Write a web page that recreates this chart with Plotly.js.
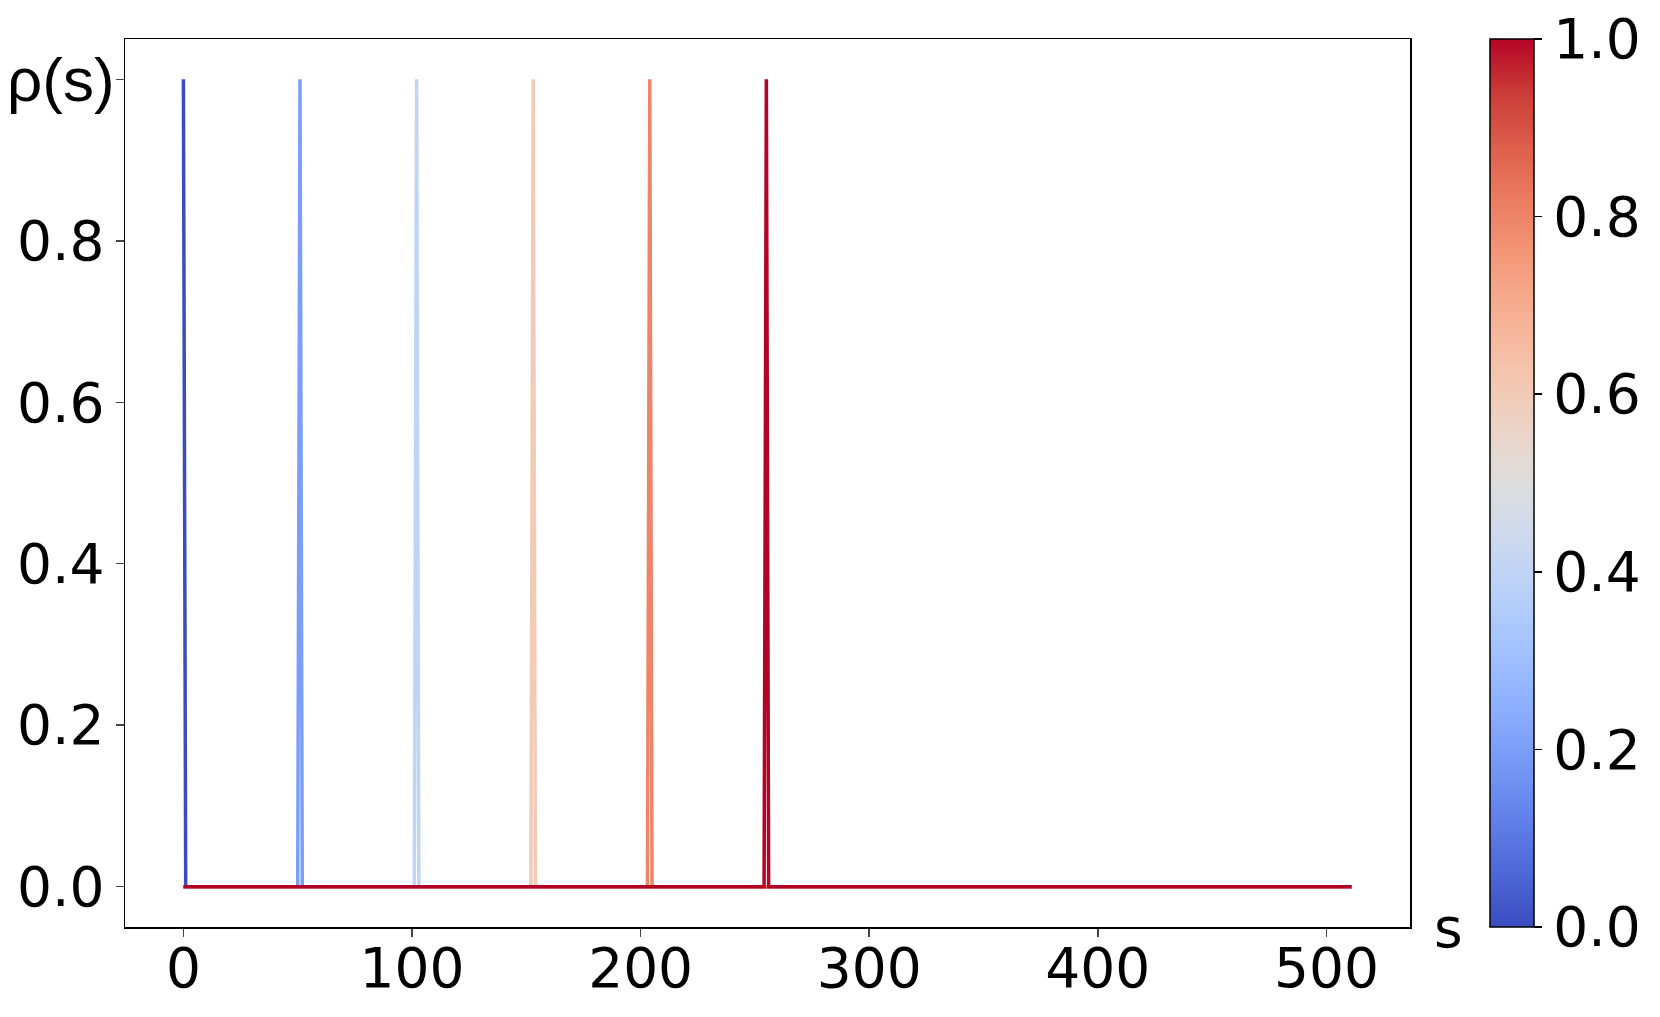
<!DOCTYPE html>
<html>
<head>
<meta charset="utf-8">
<script src="https://cdn.plot.ly/plotly-3.0.1.min.js"></script>
<style>
  html, body { margin: 0; padding: 0; background: #fff; }
  #chart { width: 1660px; height: 1017px; }
</style>
</head>
<body>
<div id="chart"></div>
<script>
// s runs over 0..511, each curve is a single spike of height 1
const sStart = 0;
const sEnd = 511;
const peakPositions = [0, 51, 102, 153, 204, 255];
const peakHeight = 1;
const colorValues = [0, 0.2, 0.4, 0.6, 0.8, 1.0];
const lineColors = ["#3b4cc0", "#7b9ff9", "#c0d4f5", "#f2cbb7", "#ee8468", "#b40426"];

const xTicks = [0, 100, 200, 300, 400, 500];
const yTicks = [0, 0.2, 0.4, 0.6, 0.8, 1.0];
const yTickText = ["0.0", "0.2", "0.4", "0.6", "0.8", ""];
const yLabel = "ρ(s)";
const xLabel = "s";

// matplotlib coolwarm
const coolwarm = [
  [0.0, "rgb(59,76,192)"], [0.0625, "rgb(77,104,215)"], [0.125, "rgb(98,130,234)"],
  [0.1875, "rgb(119,154,247)"], [0.25, "rgb(141,176,254)"], [0.3125, "rgb(163,194,255)"],
  [0.375, "rgb(184,208,249)"], [0.4375, "rgb(204,217,238)"], [0.5, "rgb(221,221,221)"],
  [0.5625, "rgb(236,211,197)"], [0.625, "rgb(245,196,173)"], [0.6875, "rgb(247,177,148)"],
  [0.75, "rgb(244,154,123)"], [0.8125, "rgb(236,127,99)"], [0.875, "rgb(222,96,77)"],
  [0.9375, "rgb(203,62,56)"], [1.0, "rgb(180,4,38)"]
];

const font = "DejaVu Sans";

const traces = peakPositions.map((p, i) => {
  const xs = [], ys = [];
  if (p > sStart) { xs.push(sStart, p - 1); ys.push(0, 0); }
  xs.push(p); ys.push(peakHeight);
  xs.push(p + 1, sEnd); ys.push(0, 0);
  return {
    x: xs,
    y: ys,
    mode: "lines",
    line: { color: lineColors[i], width: 3.5 },
    showlegend: false,
    hoverinfo: "skip"
  };
});

// dummy trace just to carry the colorbar
traces.push({
  x: [null],
  y: [null],
  mode: "markers",
  showlegend: false,
  hoverinfo: "skip",
  marker: {
    color: colorValues,
    colorscale: coolwarm,
    cmin: 0,
    cmax: 1,
    showscale: true,
    colorbar: {
      x: 1.0623,
      xanchor: "left",
      xpad: 0,
      ypad: 0,
      y: 0.5,
      len: 1,
      thickness: 44,
      outlinewidth: 1.5,
      outlinecolor: "#000",
      borderwidth: 0,
      ticks: "outside",
      ticklen: 8,
      tickwidth: 1.5,
      tickcolor: "#000",
      tickvals: colorValues,
      ticktext: colorValues.map(v => v.toFixed(1)),
      tickfont: { family: font, size: 55, color: "#000" }
    }
  }
});

const layout = {
  width: 1660,
  height: 1017,
  margin: { l: 125, r: 250, t: 39, b: 90 },
  paper_bgcolor: "#fff",
  plot_bgcolor: "#fff",
  font: { family: font, size: 55, color: "#000" },
  xaxis: {
    range: [-25.55, 536.55],
    tickvals: xTicks,
    ticks: "outside",
    ticklen: 8,
    tickwidth: 1.5,
    ticklabelstandoff: -16,
    showgrid: false,
    zeroline: false,
    showline: true,
    mirror: true,
    linecolor: "#000",
    linewidth: 1.5,
    tickfont: { family: font, size: 55 }
  },
  yaxis: {
    range: [-0.05, 1.05],
    tickvals: yTicks,
    ticktext: yTickText,
    ticks: "outside",
    ticklen: 8,
    tickwidth: 1.5,
    showgrid: false,
    zeroline: false,
    showline: true,
    mirror: true,
    linecolor: "#000",
    linewidth: 1.5,
    tickfont: { family: font, size: 55 }
  },
  annotations: [{
    text: xLabel,
    xref: "paper",
    yref: "paper",
    x: 1.0296,
    y: -0.001,
    xanchor: "center",
    yanchor: "middle",
    showarrow: false,
    font: { family: font, size: 55, color: "#000" }
  }, {
    text: yLabel,
    xref: "paper",
    yref: "y",
    x: -0.006,
    y: 1,
    xanchor: "right",
    yanchor: "middle",
    showarrow: false,
    font: { family: "Liberation Sans", size: 62, color: "#000" }
  }]
};

Plotly.newPlot("chart", traces, layout, { displayModeBar: false, staticPlot: true });
</script>
</body>
</html>
